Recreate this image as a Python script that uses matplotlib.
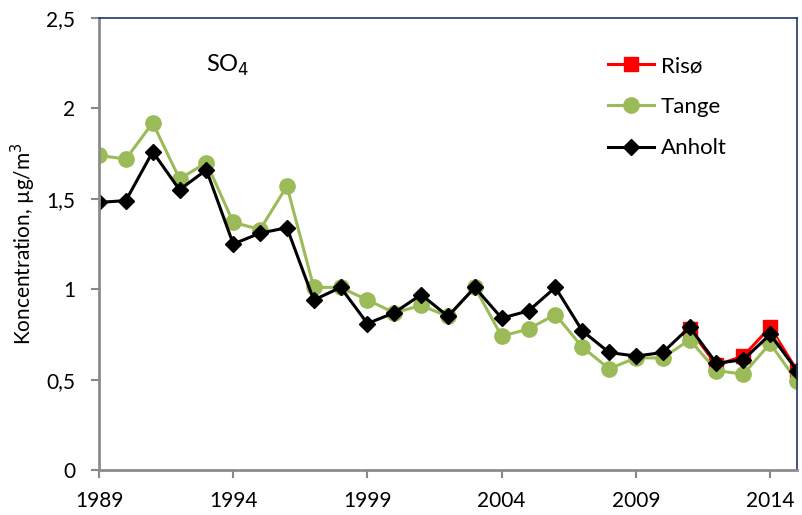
import numpy as np
import matplotlib
matplotlib.use("Agg")
import matplotlib.pyplot as plt

#Data
years = list(range(1989, 2016))
tange = [1.74, 1.72, 1.92, 1.61, 1.70, 1.37, 1.33, 1.57, 1.01, 1.01,
         0.94, 0.87, 0.91, 0.85, 1.01, 0.74, 0.78, 0.86, 0.68, 0.56,
         0.62, 0.62, 0.72, 0.55, 0.53, 0.70, 0.49]
anholt = [1.48, 1.49, 1.76, 1.55, 1.66, 1.25, 1.31, 1.34, 0.94, 1.01,
          0.81, 0.87, 0.97, 0.85, 1.01, 0.84, 0.88, 1.01, 0.77, 0.65,
          0.63, 0.65, 0.79, 0.59, 0.61, 0.75, 0.55]
riso_years = [2011, 2012, 2013, 2014, 2015]
riso = [0.78, 0.58, 0.63, 0.79, 0.55]

yticks = [0, 0.5, 1, 1.5, 2, 2.5]
ytick_labels = ["0", "0,5", "1", "1,5", "2", "2,5"]
xticks = [1989, 1994, 1999, 2004, 2009, 2014]

plt.rcParams['font.family'] = ['Lato', 'DejaVu Sans']

fig = plt.figure(figsize=(8.03, 5.15), dpi=100)
ax = fig.add_axes([99/803, 45/515, 698/803, 452/515])

ax.plot(riso_years, riso, color='#FF0000', lw=2.2, marker='s', markersize=10, label='Risø')
ax.plot(years, tange, color='#9BBB59', lw=2.2, marker='o', markersize=11, label='Tange')
ax.plot(years, anholt, color='black', lw=2.2, marker='D', markersize=8.5, label='Anholt')

ax.set_xlim(1989, 2015)
ax.set_ylim(0, 2.5)
ax.set_xticks(xticks)
ax.set_xticklabels([str(x) for x in xticks])
ax.set_yticks(yticks)
ax.set_yticklabels(ytick_labels)
ax.tick_params(labelsize=15, color='#888888', width=1.5, length=6)
ax.tick_params(axis='x', pad=9)
ax.tick_params(axis='y', pad=11)

for s in ['left', 'bottom']:
    ax.spines[s].set_color('#8C8C8C')
    ax.spines[s].set_linewidth(2)
for s in ['top', 'right']:
    ax.spines[s].set_color('#1F3864')
    ax.spines[s].set_linewidth(1.2)

ax.set_ylabel("Koncentration, µg/m$^3$", fontsize=15, labelpad=6)
ax.text(1993.8, 2.24, "SO$_4$", fontsize=17, ha='center', va='center')

leg = ax.legend(loc='upper left', bbox_to_anchor=(0.70, 0.96), frameon=False,
                fontsize=16, handlelength=2.1, labelspacing=0.95, handletextpad=0.3)

fig.savefig("out.png", dpi=100)
